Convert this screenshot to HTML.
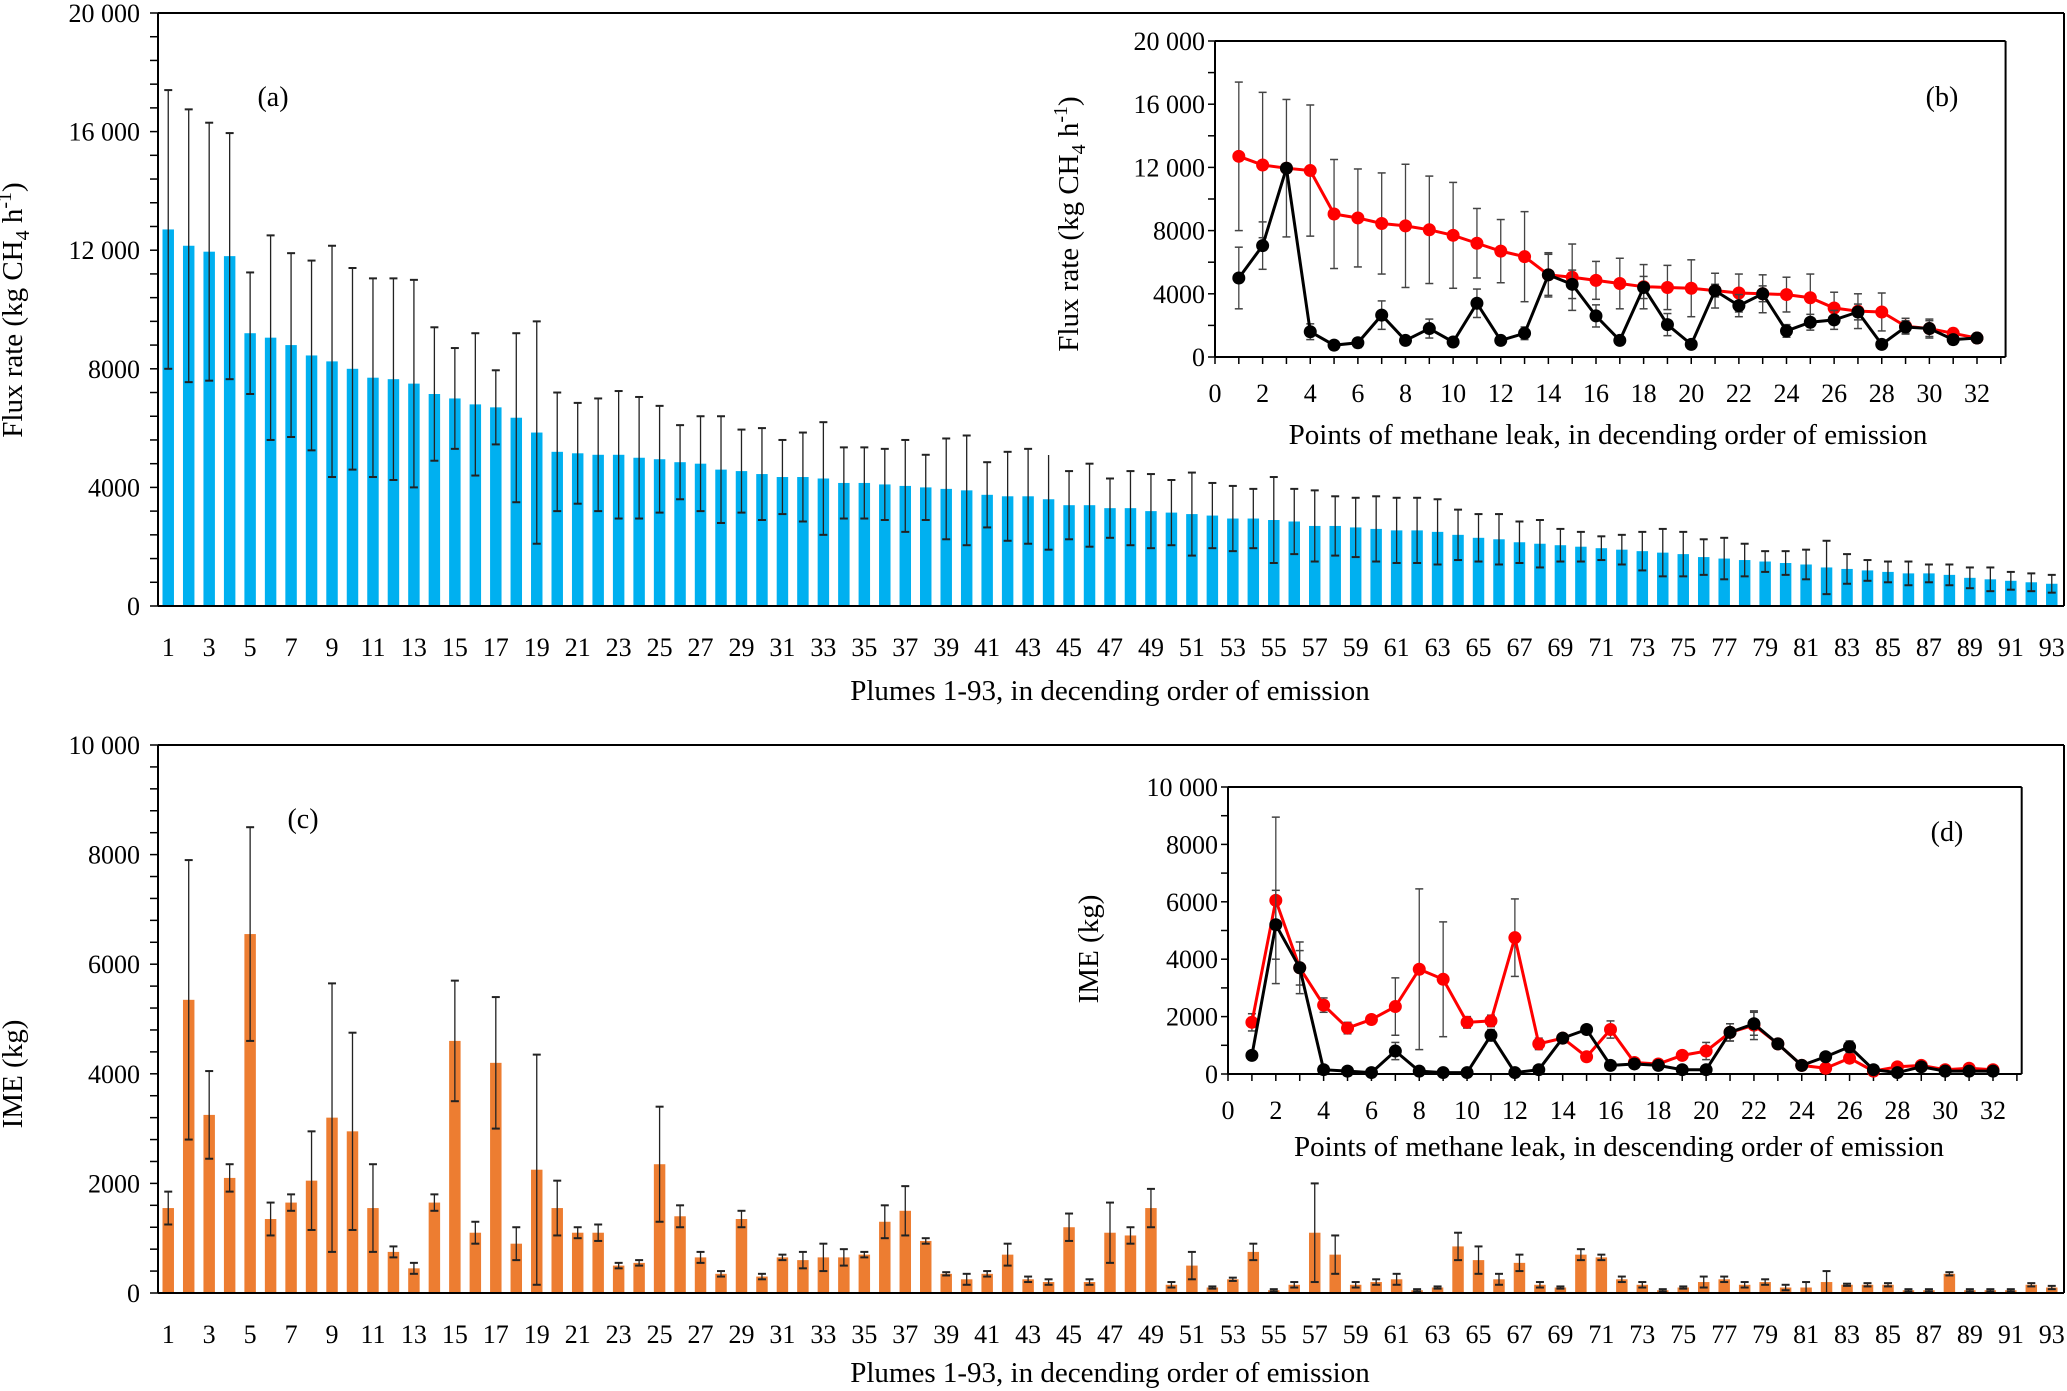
<!DOCTYPE html>
<html><head><meta charset="utf-8"><style>
html,body{margin:0;padding:0;background:#fff}
svg{display:block;font-family:"Liberation Serif",serif}
</style></head><body>
<svg id="chart" width="2067" height="1391" viewBox="0 0 2067 1391" xmlns="http://www.w3.org/2000/svg"></svg>
<script>
const plumeFlux=[12700,12150,11950,11800,9200,9050,8800,8450,8250,8000,7700,7650,7500,7150,7000,6800,6700,6350,5850,5200,5150,5100,5100,5000,4950,4850,4800,4600,4550,4450,4350,4350,4300,4150,4150,4100,4050,4000,3950,3900,3750,3700,3700,3600,3400,3400,3300,3300,3200,3150,3100,3050,2950,2950,2900,2850,2700,2700,2650,2600,2550,2550,2500,2400,2300,2250,2150,2100,2050,2000,1950,1900,1850,1800,1750,1650,1600,1550,1500,1450,1400,1300,1250,1200,1150,1100,1100,1050,950,900,850,800,750];
const plumeFluxErr=[4700,4600,4350,4150,2050,3450,3100,3200,3900,3400,3350,3400,3500,2250,1700,2400,1250,2850,3750,2000,1700,1900,2150,2050,1800,1250,1600,1800,1400,1550,1250,1500,1900,1200,1200,1200,1550,1100,1700,1850,1100,1500,1600,1700,1150,1400,1000,1250,1250,1100,1400,1100,1100,1000,1450,1100,1200,1000,1000,1100,1100,1100,1100,850,800,850,700,800,550,500,400,500,650,800,750,600,700,550,350,400,500,900,500,350,350,400,300,350,350,400,300,300,300];
const plumeIME=[1550,5350,3250,2100,6550,1350,1650,2050,3200,2950,1550,750,450,1650,4600,1100,4200,900,2250,1550,1100,1100,500,550,2350,1400,650,350,1350,300,650,600,650,650,700,1300,1500,950,350,250,350,700,250,200,1200,200,1100,1050,1550,150,500,100,250,750,50,150,1100,700,150,200,250,50,100,850,600,250,550,150,100,700,650,250,150,50,100,200,250,150,200,100,100,200,150,150,150,50,50,350,50,50,50,150,100];
const plumeIMEErr=[300,2550,800,250,1950,300,150,900,2450,1800,800,100,100,150,1100,200,1200,300,2100,500,100,150,50,50,1050,200,100,50,150,50,50,150,250,150,50,300,450,50,30,100,50,200,50,50,250,50,550,150,350,50,250,20,30,150,20,50,900,350,50,50,100,20,20,250,250,100,150,50,20,100,50,50,50,20,20,100,50,50,50,50,100,200,20,30,30,20,20,30,20,20,20,30,30];
const leakFluxRed=[12700,12150,11950,11800,9050,8800,8450,8300,8050,7700,7200,6700,6350,5200,5050,4850,4650,4450,4400,4350,4200,4050,4000,3950,3750,3100,2900,2850,1950,1800,1500,1200];
const leakFluxRedErr=[4700,4600,4350,4150,3450,3100,3200,3900,3400,3350,2200,2000,2850,1300,2100,1200,1600,1400,1400,1800,1100,1200,1200,1100,1500,1000,1100,1200,500,600,300,300];
const leakFluxBlack=[5000,7050,11950,1600,750,900,2650,1050,1800,950,3400,1050,1500,5200,4600,2600,1050,4400,2050,800,4200,3250,4000,1650,2200,2350,2850,800,1900,1800,1100,1200];
const leakFluxBlackErr=[1950,1500,300,500,150,300,900,250,600,200,900,200,400,1400,900,700,200,700,700,200,400,700,500,400,500,600,500,200,400,500,300,300];
const leakIMERed=[1800,6050,3700,2400,1600,1900,2350,3650,3300,1800,1850,4750,1050,1250,600,1550,400,350,650,800,1450,1700,1050,300,200,550,100,250,300,150,200,150];
const leakIMERedErr=[300,2900,900,250,200,150,1000,2800,2000,200,200,1350,200,150,100,300,100,50,150,300,300,500,150,50,50,150,50,50,50,50,50,50];
const leakIMEBlack=[650,5200,3700,150,100,50,800,100,50,50,1350,50,150,1250,1550,300,350,300,150,150,1450,1750,1050,300,600,950,150,50,250,100,100,100];
const leakIMEBlackErr=[100,1200,600,50,30,30,300,30,20,20,200,20,50,150,150,50,50,50,50,50,300,400,100,50,100,200,50,20,50,20,20,20];
const fluxTicks=[0,4000,8000,12000,16000,20000];
const fluxTickLabels=["0","4000","8000","12 000","16 000","20 000"];
const imeTicks=[0,2000,4000,6000,8000,10000];
const imeTickLabels=["0","2000","4000","6000","8000","10 000"];
const leakXTicks=[0,2,4,6,8,10,12,14,16,18,20,22,24,26,28,30,32];

const NS="http://www.w3.org/2000/svg";
const svg=document.getElementById('chart');
function mk(tag,attrs,parent,text){const e=document.createElementNS(NS,tag);for(const k in attrs)e.setAttribute(k,attrs[k]);if(text!==undefined)e.textContent=text;(parent||svg).appendChild(e);return e;}
function line(x1,y1,x2,y2,c,w,p){return mk('line',{x1,y1,x2,y2,stroke:c,'stroke-width':w},p);}

function barPanel(name,vals,errs,color,x0,x1,y0,y1,ymax,ticks,tlabels,minorStep,tag,tagX,tagY,ytitle,ytx,yty,xtitle,xty,sub){
  const g=mk('g',{});
  
  
  const n=vals.length, slot=(x1-x0)/n;
  const sx=i=>x0+slot*(i+0.5);
  const sy=v=>y0-(v/ymax)*(y0-y1);
  for(let v=0;v<=ymax+1;v+=minorStep) line(x0-8,sy(v),x0,sy(v),'#000',1.5,g);
  vals.forEach((v,i)=>{
    const b=mk('rect',{x:sx(i)-slot*0.28,y:sy(v),width:slot*0.56,height:y0-sy(v),fill:color},g);
    
    
    const e=errs[i],cx=sx(i);
    const eg=mk('g',{},g);
    
    
    line(cx,sy(v+e),cx,sy(Math.max(0,v-e)),'#222',1.3,eg);
    line(cx-4,sy(v+e),cx+4,sy(v+e),'#222',2,eg);
    line(cx-4,sy(Math.max(0,v-e)),cx+4,sy(Math.max(0,v-e)),'#222',2,eg);
    if(i%2===0){const t=mk('text',{x:cx,y:y0+50,'font-size':26,'text-anchor':'middle'},g,String(i+1));
      }
  });
  line(x0,y1,x0,y0,'#000',2,g);
  line(x0,y0,x1+2,y0,'#000',2,g);
  line(x0,y1,x1+2,y1,'#000',2,g);
  line(x1+2,y1,x1+2,y0,'#000',2,g);
  ticks.forEach((t,i)=>{const l=mk('text',{x:x0-18,y:sy(t)+9,'font-size':26,'text-anchor':'end'},g,tlabels[i]);
    });
  const tg=mk('text',{x:tagX,y:tagY,'font-size':28,'text-anchor':'middle'},g,tag);
  
  const yt=mk('text',{x:ytx,y:yty,'font-size':29,'text-anchor':'middle',transform:`rotate(-90 ${ytx} ${yty})`},g,ytitle);
  if(sub){yt.textContent='';mk('tspan',{},yt,'Flux rate (kg CH');mk('tspan',{'font-size':20,dy:7},yt,'4');mk('tspan',{dy:-7},yt,' h');mk('tspan',{'font-size':20,dy:-11},yt,'-1');mk('tspan',{dy:11},yt,')');}
  
  const xt=mk('text',{x:(x0+x1)/2,y:xty,'font-size':29,'text-anchor':'middle'},g,xtitle);
  
}

function linePanel(name,series,x0,x1,xmax,y0,y1,ymax,ticks,tlabels,minorStep,tag,tagX,tagY,ytitle,ytx,yty,xtitle,xtx,xty,sub){
  const g=mk('g',{});
  
  
  const sx=v=>x0+v/xmax*(x1-x0);
  const sy=v=>y0-(v/ymax)*(y0-y1);
  const xr=sx(33.2);
  mk('rect',{x:x0,y:y1,width:xr-x0,height:y0-y1,fill:'#fff'},g);
  for(let v=0;v<=ymax+1;v+=minorStep) line(x0-7,sy(v),x0,sy(v),'#000',1.5,g);
  for(let k=0;k<=33;k++) line(sx(k),y0,sx(k),y0+7,'#000',1.5,g);
  line(x0,y1,x0,y0,'#000',2,g);line(x0,y0,xr,y0,'#000',2,g);line(x0,y1,xr,y1,'#000',2,g);line(xr,y1,xr,y0,'#000',2,g);
  ticks.forEach((t,i)=>{const l=mk('text',{x:x0-10,y:sy(t)+9,'font-size':26,'text-anchor':'end'},g,tlabels[i]);
    });
  leakXTicks.forEach(t=>{const l=mk('text',{x:sx(t),y:y0+45,'font-size':26,'text-anchor':'middle'},g,String(t));
    });
  series.forEach(s=>{
    const sg=mk('g',{},g);
    
    
    s.vals.forEach((v,i)=>{const cx=sx(i+1),e=s.errs[i];
      line(cx,sy(v+e),cx,sy(Math.max(0,v-e)),'#444',1.3,sg);
      line(cx-4,sy(v+e),cx+4,sy(v+e),'#444',1.5,sg);
      line(cx-4,sy(Math.max(0,v-e)),cx+4,sy(Math.max(0,v-e)),'#444',1.5,sg);});
    const pts=s.vals.map((v,i)=>sx(i+1)+','+sy(v)).join(' ');
    const pl=mk('polyline',{points:pts,fill:'none',stroke:s.color,'stroke-width':3},sg);
    
    
    s.vals.forEach((v,i)=>{const c=mk('circle',{cx:sx(i+1),cy:sy(v),r:6.5,fill:s.color},sg);
      
      });
  });
  const tg=mk('text',{x:tagX,y:tagY,'font-size':28,'text-anchor':'middle'},g,tag);
  
  const yt=mk('text',{x:ytx,y:yty,'font-size':29,'text-anchor':'middle',transform:`rotate(-90 ${ytx} ${yty})`},g,ytitle);
  if(sub){yt.textContent='';mk('tspan',{},yt,'Flux rate (kg CH');mk('tspan',{'font-size':20,dy:7},yt,'4');mk('tspan',{dy:-7},yt,' h');mk('tspan',{'font-size':20,dy:-11},yt,'-1');mk('tspan',{dy:11},yt,')');}
  
  const xt=mk('text',{x:xtx,y:xty,'font-size':29,'text-anchor':'middle'},g,xtitle);
  
}

barPanel('panel-a-flux-bars',plumeFlux,plumeFluxErr,'#00b0f0',158,2062,606,13,20000,fluxTicks,fluxTickLabels,800,'(a)',273,106,'',22,310,'Plumes 1-93, in decending order of emission',700,true);
barPanel('panel-c-ime-bars',plumeIME,plumeIMEErr,'#ed7d31',158,2062,1293,745,10000,imeTicks,imeTickLabels,400,'(c)',303,828,'IME (kg)',22,1074,'Plumes 1-93, in decending order of emission',1382,false);
mk('rect',{x:1040,y:15,width:1022,height:440,fill:'#fff'});
linePanel('panel-b-flux-lines',[{name:'red-series',vals:leakFluxRed,errs:leakFluxRedErr,color:'#ff0000'},{name:'black-series',vals:leakFluxBlack,errs:leakFluxBlackErr,color:'#000'}],1215,1977,32,357,41,20000,fluxTicks,fluxTickLabels,2000,'(b)',1942,106,'',1078,224,'Points of methane leak, in decending order of emission',1608,444,true);
linePanel('panel-d-ime-lines',[{name:'red-series',vals:leakIMERed,errs:leakIMERedErr,color:'#ff0000'},{name:'black-series',vals:leakIMEBlack,errs:leakIMEBlackErr,color:'#000'}],1228,1993,32,1074,787,10000,imeTicks,imeTickLabels,1000,'(d)',1947,841,'IME (kg)',1098,949,'Points of methane leak, in descending order of emission',1619,1156,false);
</script>
</body></html>
